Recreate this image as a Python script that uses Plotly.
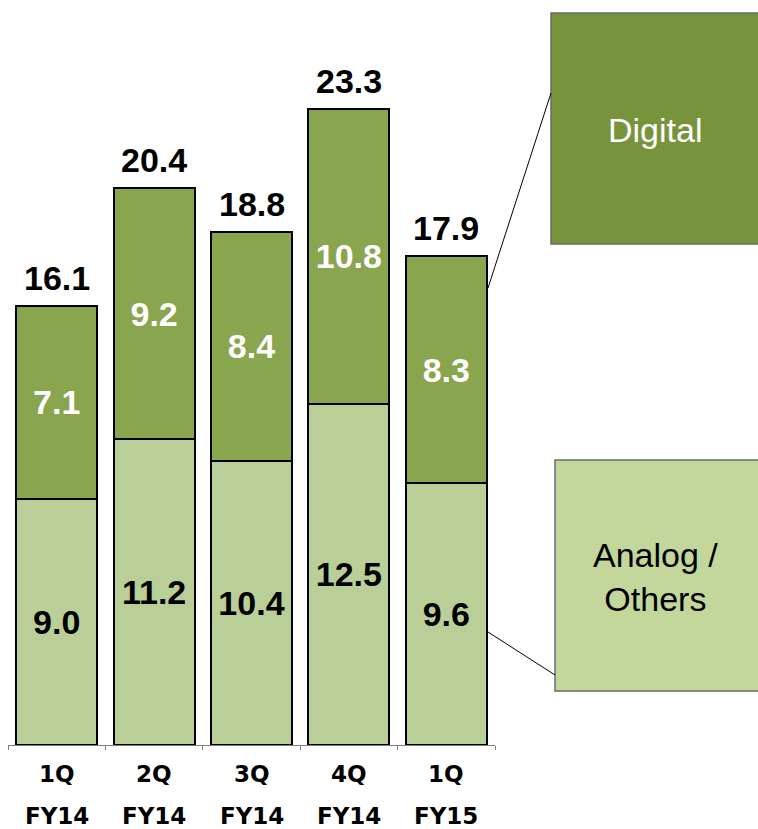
import plotly.graph_objects as go

quarters = ["1Q", "2Q", "3Q", "4Q", "1Q"]
years = ["FY14", "FY14", "FY14", "FY14", "FY15"]
analog = [9.0, 11.2, 10.4, 12.5, 9.6]
digital = [7.1, 9.2, 8.4, 10.8, 8.3]
totals = [16.1, 20.4, 18.8, 23.3, 17.9]

cats = [f"{q} {y} #{i}" for i, (q, y) in enumerate(zip(quarters, years))]

W, H = 758, 829
ML, MR, MT, MB = 8, 263, 8, 84
PW = W - ML - MR
PH = H - MT - MB


def px(x):
    return (x - ML) / PW


def py(y):
    return (H - MB - y) / PH


FONT = "Liberation Sans, Arial, sans-serif"
CFONT = "DejaVu Sans, Verdana, sans-serif"
C_ANALOG = "#BACF98"
C_DIGITAL = "#89A54E"
NUM_SIZE = 34

fig = go.Figure()
fig.add_trace(go.Bar(
    x=cats, y=analog, name="Analog / Others",
    marker=dict(color=C_ANALOG, line=dict(color="black", width=2)),
    text=[f"{v:.1f}" for v in analog], textposition="inside",
    insidetextanchor="middle", textangle=0,
    textfont=dict(family=FONT, size=NUM_SIZE, color="black", weight="bold"),
    width=0.83, hoverinfo="skip",
))
fig.add_trace(go.Bar(
    x=cats, y=digital, name="Digital",
    marker=dict(color=C_DIGITAL, line=dict(color="black", width=2)),
    text=[f"{v:.1f}" for v in digital], textposition="inside",
    insidetextanchor="middle", textangle=0,
    textfont=dict(family=FONT, size=NUM_SIZE, color="white", weight="bold"),
    width=0.83, hoverinfo="skip",
))

annotations = []
for c, t in zip(cats, totals):
    annotations.append(dict(
        x=c, y=t, xref="x", yref="y", text=f"{t:.1f}", showarrow=False,
        xanchor="center", yanchor="bottom", yshift=7,
        font=dict(family=FONT, size=NUM_SIZE, color="black", weight="bold"),
    ))
for c, q, y in zip(cats, quarters, years):
    annotations.append(dict(
        x=c, y=py(774), xref="x", yref="paper", text=q, showarrow=False,
        xanchor="center", yanchor="middle",
        font=dict(family=CFONT, size=23, color="black", weight="bold"),
    ))
    annotations.append(dict(
        x=c, y=py(816), xref="x", yref="paper", text=y, showarrow=False,
        xanchor="center", yanchor="middle",
        font=dict(family=CFONT, size=23, color="black", weight="bold"),
    ))

# legend call-out boxes
annotations.append(dict(
    x=px(655), y=py(130), xref="paper", yref="paper", text="Digital", showarrow=False,
    xanchor="center", yanchor="middle",
    font=dict(family=FONT, size=34, color="white"),
))
annotations.append(dict(
    x=px(655), y=py(577), xref="paper", yref="paper", text="Analog /<br>Others", showarrow=False,
    xanchor="center", yanchor="middle",
    font=dict(family=FONT, size=34, color="black"),
))

shapes = [
    dict(type="rect", xref="paper", yref="paper", x0=px(551), x1=px(775), y0=py(244), y1=py(13),
         fillcolor="#77943C", line=dict(color="#6b6b6b", width=1.5), layer="above"),
    dict(type="rect", xref="paper", yref="paper", x0=px(555), x1=px(775), y0=py(691), y1=py(460),
         fillcolor="#C4D79B", line=dict(color="#6b6b6b", width=1.5), layer="above"),
    dict(type="line", xref="paper", yref="paper", x0=px(551), y0=py(93), x1=px(488), y1=py(288),
         line=dict(color="black", width=1), layer="above"),
    dict(type="line", xref="paper", yref="paper", x0=px(488), y0=py(632), x1=px(555), y1=py(675),
         line=dict(color="black", width=1), layer="above"),
]

fig.update_layout(
    barmode="stack",
    width=W, height=H,
    margin=dict(l=ML, r=MR, t=MT, b=MB),
    plot_bgcolor="white", paper_bgcolor="white",
    showlegend=False,
    annotations=annotations,
    shapes=shapes,
    xaxis=dict(
        type="category", range=[-0.5, 4.5], showticklabels=False,
        showline=True, linecolor="#7f7f7f", linewidth=1,
        ticks="outside", tickson="boundaries", ticklen=4, tickcolor="#7f7f7f",
        showgrid=False, zeroline=False, fixedrange=True,
    ),
    yaxis=dict(range=[0, 27], visible=False, showgrid=False, zeroline=False, fixedrange=True),
)

fig.write_html(
    "out.html",
    config={"displayModeBar": False},
    post_script="document.body.style.margin='0';document.body.style.overflow='hidden';",
)
